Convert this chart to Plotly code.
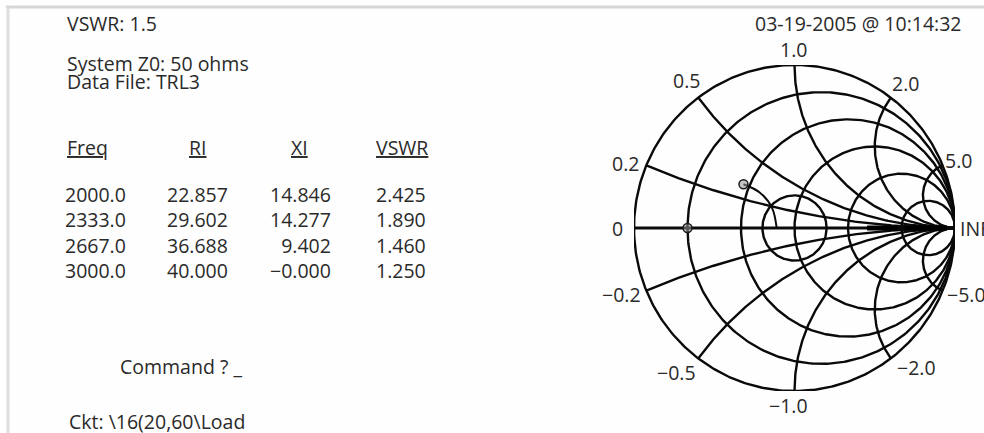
import numpy as np
import plotly.graph_objects as go

# Smith chart grid values
resistance_circles = [0.2, 0.5, 1.0, 2.0, 5.0]
reactance_arcs = [0.2, 0.5, 1.0, 2.0, 5.0]
vswr_circle = 1.5
z0 = 50.0

# measured data (ohms)
freq = [2000.0, 2333.0, 2667.0, 3000.0]
r_ohm = [22.857, 29.602, 36.688, 40.000]
x_ohm = [14.846, 14.277, 9.402, -0.0]
vswr = [2.425, 1.890, 1.460, 1.250]

# load point marked on the real axis (ohms)
load_r = [10.0]
load_x = [0.0]

# chart labels (reactance value -> text)
label_vals = [1.0, 0.5, 2.0, 0.2, 5.0, 0.0, np.inf, -0.2, -5.0, -0.5, -2.0, -1.0]
label_text = ["1.0", "0.5", "2.0", "0.2", "5.0", "0", "INF",
              "\u22120.2", "\u22125.0", "\u22120.5", "\u22122.0", "\u22121.0"]

W, H = 984, 433
FONT = "Open Sans"
FS = 19.5
TXT = "#2a2a2a"


def gamma(z):
    return (z - 1) / (z + 1)


def px(x):
    return x / W


def py(y):
    return 1 - y / H


fig = go.Figure()
line = dict(color="#0a0a0a", width=2.4)

# outer circle and resistance circles
t = np.linspace(0, 2 * np.pi, 400)
fig.add_trace(go.Scatter(x=np.cos(t), y=np.sin(t), mode="lines", line=line))
for r in resistance_circles:
    c, rad = r / (1 + r), 1 / (1 + r)
    fig.add_trace(go.Scatter(x=c + rad * np.cos(t), y=rad * np.sin(t),
                             mode="lines", line=line))

# reactance arcs
for xv in reactance_arcs:
    R = 1 / xv
    tb = np.arctan2((xv**2 - 1) / (xv**2 + 1), -2 * xv / (xv**2 + 1)) % (2 * np.pi)
    a = np.linspace(tb, 1.5 * np.pi, 200)
    ax_, ay_ = 1 + R * np.cos(a), R + R * np.sin(a)
    fig.add_trace(go.Scatter(x=ax_, y=ay_, mode="lines", line=line))
    fig.add_trace(go.Scatter(x=ax_, y=-ay_, mode="lines", line=line))

# real axis
fig.add_trace(go.Scatter(x=[-1, 1], y=[0, 0], mode="lines",
                         line=dict(color="#0a0a0a", width=2.8)))

# where the +/-0.2 arcs merge into the axis the lines pile up into a thick band,
# broken where the r=5 circle crosses (xor drawing)
start = 1 - np.sqrt(0.3)
rmax = resistance_circles[-1]
gap = 1 - 2 / (1 + rmax)
for a0, a1 in [(start, gap - 0.02), (gap + 0.02, 0.95)]:
    fig.add_trace(go.Scatter(x=[a0, a1], y=[0, 0], mode="lines",
                             line=dict(color="#000", width=5)))

# VSWR circle
g = (vswr_circle - 1) / (vswr_circle + 1)
fig.add_trace(go.Scatter(x=g * np.cos(t), y=g * np.sin(t), mode="lines", line=line))

# data trajectory
zd = (np.array(r_ohm) + 1j * np.array(x_ohm)) / z0
gd = gamma(zd)
fig.add_trace(go.Scatter(x=gd.real, y=gd.imag, mode="lines",
                         line=dict(color="#0a0a0a", width=2, shape="spline")))
mk = dict(symbol="circle", size=9, color="rgba(150,150,150,0.55)",
          line=dict(color="#1a1a1a", width=1.5))
fig.add_trace(go.Scatter(x=gd.real[:1], y=gd.imag[:1], mode="markers", marker=mk))
gl = gamma((np.array(load_r) + 1j * np.array(load_x)) / z0)
fig.add_trace(go.Scatter(x=gl.real, y=gl.imag, mode="markers", marker=mk))

# chart labels: (xshift, yshift, anchor) from the rim point
offsets = {
    "1.0": (-1, 16, "center"), "0.5": (4, 17, "right"), "2.0": (15, 14, "center"),
    "0.2": (-5, 2, "right"), "5.0": (0, 5, "left"), "0": (-9, 0, "right"),
    "INF": (3, 0, "left"), "\u22120.2": (-3, -4, "right"), "\u22125.0": (2, -4, "left"),
    "\u22120.5": (0, -14, "right"), "\u22122.0": (4, -9, "left"),
    "\u22121.0": (-6, -14, "center"),
}
for v, s in zip(label_vals, label_text):
    if np.isinf(v):
        bx, by = 1.0, 0.0
    elif v == 0:
        bx, by = -1.0, 0.0
    else:
        bx, by = (v**2 - 1) / (v**2 + 1), 2 * v / (v**2 + 1)
    dx, dy, anc = offsets[s]
    fig.add_annotation(x=bx, y=by, xref="x", yref="y", text=s, showarrow=False,
                       xshift=dx, yshift=dy, xanchor=anc, yanchor="middle",
                       font=dict(family=FONT, size=FS, color=TXT))


# left text panel
def text(x, y, s, anchor="left"):
    fig.add_annotation(x=px(x), y=py(y), xref="paper", yref="paper", text=s,
                       showarrow=False, xanchor=anchor, yanchor="middle", align=anchor,
                       font=dict(family=FONT, size=FS, color=TXT))


text(65, 23, "VSWR: %s" % vswr_circle)
text(65, 63, "System Z0: %d ohms" % z0)
text(65, 81, "Data File: TRL3")
text(964, 23, "03-19-2005 @ 10:14:32", "right")
text(65, 147, "<u>Freq</u>")
text(197, 147, "<u>RI</u>", "center")
text(299, 147, "<u>XI</u>", "center")
text(402, 147, "<u>VSWR</u>", "center")

columns = [
    ["%.1f" % f for f in freq],
    ["%.3f" % v for v in r_ohm],
    [("%.3f" % v).replace("-", "\u2212") for v in x_ohm],
    ["%.3f" % v for v in vswr],
]
for cx, col in zip([128, 230, 333, 428], columns):
    text(cx, 232.5, "<br>".join(col), "right")

text(118, 366, "Command ? _")
text(67, 421, "Ckt: \\16(20,60\\Load")

# page frame lines
fig.add_shape(type="line", xref="paper", yref="paper", x0=px(6), x1=1, y0=py(7), y1=py(7),
              line=dict(color="#d6d6d6", width=3))
fig.add_shape(type="line", xref="paper", yref="paper", x0=px(8), x1=px(8), y0=py(7), y1=0,
              line=dict(color="#dedede", width=3))

fig.update_layout(
    width=W, height=H, margin=dict(l=0, r=0, t=0, b=0),
    paper_bgcolor="#fefefe", plot_bgcolor="rgba(0,0,0,0)", showlegend=False,
    xaxis=dict(range=[-1, 1], domain=[px(634), px(955)], visible=False),
    yaxis=dict(range=[-1, 1], domain=[py(391), py(65)], visible=False),
)

fig.write_html("out.html", config=dict(displayModeBar=False),
               post_script="document.body.style.margin='0';"
                           "document.body.style.overflow='hidden';")
